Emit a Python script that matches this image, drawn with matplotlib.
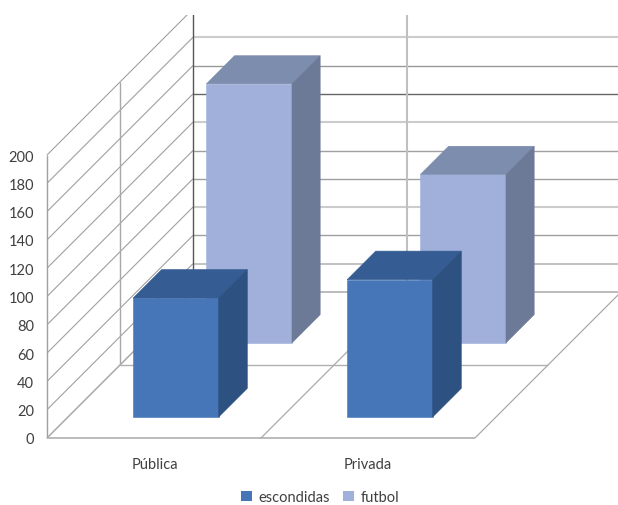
import matplotlib
matplotlib.use("Agg")
import matplotlib.pyplot as plt
from matplotlib.patches import Patch, Polygon, Rectangle

plt.rcParams["font.family"] = ["Lato", "DejaVu Sans"]

categories = ["Pública", "Privada"]
escondidas = [84, 97]
futbol = [183, 119]
ticks = list(range(0, 201, 20))

# colours per series: front, top, side
esc_colors = ("#4676B8", "#365D93", "#2D5180")
fut_colors = ("#A0B0DB", "#7D8DAE", "#6C7A98")

# gridline look on the back wall, from 0 up to 200
grid_col = ["#b0b0b0", "#b8b8b8", "#a0a0a0", "#cccccc", "#a0a0a0", "#a0a0a0",
            "#cccccc", "#666666", "#999999", "#cccccc", "#cccccc"]
grid_lw = [1.2, 1.2, 1.0, 1.5, 1.0, 1.0, 1.5, 1.0, 1.0, 1.5, 1.5]


def proj(c, d, v):
    # oblique projection: category position, depth 0-1, value -> pixels
    return 47 + 214 * c + 146 * d, 439 - 1.415 * v - 146 * d


def wall_line(ax, a, b, color="#a8a8a8", lw=0.9, z=1):
    ax.plot([a[0], b[0]], [a[1], b[1]], color=color, lw=lw, zorder=z, solid_capstyle="butt")


def bar3d(ax, c0, val, d0, d1, cols):
    c1 = c0 + 0.40
    front = [proj(c0, d0, 0), proj(c1, d0, 0), proj(c1, d0, val), proj(c0, d0, val)]
    top = [proj(c0, d0, val), proj(c1, d0, val), proj(c1, d1, val), proj(c0, d1, val)]
    side = [proj(c1, d0, 0), proj(c1, d1, 0), proj(c1, d1, val), proj(c1, d0, val)]
    for pts, col in zip((front, top, side), cols):
        ax.add_patch(Polygon(pts, closed=True, fc=col, ec=col, lw=0.4, zorder=3))


fig = plt.figure(figsize=(6.18, 5.06), dpi=100)
ax = fig.add_axes([0, 0, 1, 1])
ax.set_xlim(0, 618)
ax.set_ylim(506, 0)
ax.axis("off")

# left wall and back wall
for k, t in enumerate(ticks):
    wall_line(ax, proj(0, 0, t), proj(0, 1, t), "#a0a0a0", 0.8)
    if t > 0:
        wall_line(ax, proj(0, 1, t), proj(2, 1, t), grid_col[k], grid_lw[k])
wall_line(ax, proj(0, 0, 0), proj(0, 0, 200), "#a0a0a0", 1.0)
wall_line(ax, proj(0, 0.5, 0), proj(0, 0.5, 200), "#a8a8a8", 1.0)
wall_line(ax, proj(0, 1, 0), proj(0, 1, 200), "#555555", 1.0)
wall_line(ax, proj(1, 1, 0), proj(1, 1, 200), "#c0c0c0", 1.5)

# floor
wall_line(ax, proj(0, 0, 0), proj(2, 0, 0), "#bbbbbb", 1.4)
wall_line(ax, proj(0, 0.5, 0), proj(2, 0.5, 0), "#b0b0b0", 1.0)
wall_line(ax, proj(0, 1, 0), proj(2, 1, 0), "#b0b0b0", 1.2)
for c in range(3):
    wall_line(ax, proj(c, 0, 0), proj(c, 1, 0), "#aaaaaa", 0.9)

# the source picture is cut off just above the 180 line
ax.add_patch(Rectangle((0, 0), 618, 16, fc="white", ec="none", zorder=2))

# back row first so the front row covers it
for i, v in enumerate(futbol):
    bar3d(ax, i + 0.30, v, 0.652, 0.845, fut_colors)
for i, v in enumerate(escondidas):
    bar3d(ax, i + 0.304, v, 0.144, 0.34, esc_colors)

for t in ticks:
    ax.text(34, proj(0, 0, t)[1] + 1.5, str(t), ha="right", va="center", fontsize=10.5, color="#404040")
for i, name in enumerate(categories):
    ax.text(155 + 213 * i, 465, name, ha="center", va="center", fontsize=10.5, color="#404040")

handles = [Patch(fc=esc_colors[0], label="escondidas"), Patch(fc=fut_colors[0], label="futbol")]
ax.legend(handles=handles, ncol=2, frameon=False, loc="center", bbox_to_anchor=(320, 498),
          bbox_transform=ax.transData, fontsize=10.5, labelcolor="#404040",
          handlelength=0.75, handleheight=0.75, handletextpad=0.45, columnspacing=0.9)

fig.savefig("out.png", dpi=100)
